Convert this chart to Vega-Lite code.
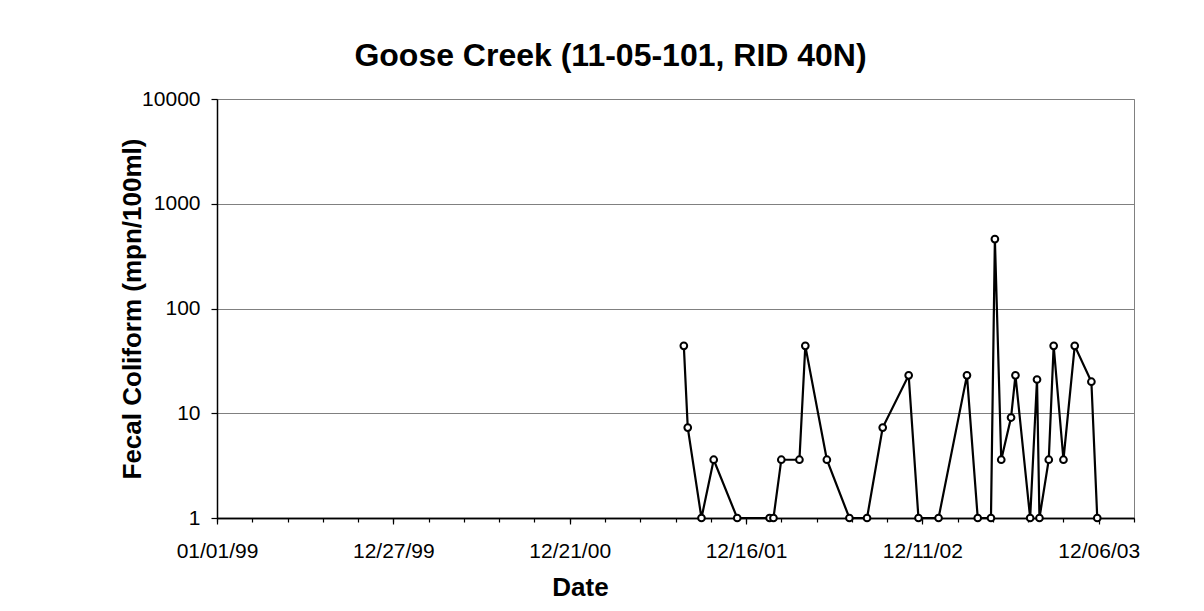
{
  "$schema": "https://vega.github.io/schema/vega-lite/v6.json",
  "autosize": "none",
  "padding": {"left": 217, "top": 99, "right": 70, "bottom": 93},
  "width": 917,
  "height": 419,
  "background": "white",
  "title": {
    "text": "Goose Creek (11-05-101, RID 40N)",
    "font": "Liberation Sans",
    "fontSize": 32,
    "fontWeight": "bold",
    "color": "black",
    "anchor": "middle",
    "frame": "group",
    "baseline": "alphabetic",
    "dx": -65,
    "dy": 42,
    "offset": 32
  },
  "config": {
    "view": {"stroke": "#808080", "strokeWidth": 1},
    "axis": {
      "labelFont": "Liberation Sans",
      "labelFontSize": 21,
      "labelColor": "black",
      "titleFont": "Liberation Sans",
      "titleFontSize": 26,
      "titleFontWeight": "bold",
      "titleColor": "black",
      "domainColor": "black",
      "domainWidth": 1.5,
      "tickColor": "black",
      "tickWidth": 1.2,
      "labelFlush": false,
      "labelOverlap": false,
      "labelBound": false
    }
  },
  "data": {
    "values": [
      {"date": "2001/08/11", "fc": 44},
      {"date": "2001/08/19", "fc": 7.3},
      {"date": "2001/09/16", "fc": 1},
      {"date": "2001/10/11", "fc": 3.6},
      {"date": "2001/11/28", "fc": 1},
      {"date": "2002/02/02", "fc": 1},
      {"date": "2002/02/10", "fc": 1},
      {"date": "2002/02/26", "fc": 3.6},
      {"date": "2002/04/04", "fc": 3.6},
      {"date": "2002/04/16", "fc": 44},
      {"date": "2002/05/30", "fc": 3.6},
      {"date": "2002/07/15", "fc": 1},
      {"date": "2002/08/20", "fc": 1},
      {"date": "2002/09/21", "fc": 7.3},
      {"date": "2002/11/13", "fc": 23},
      {"date": "2002/12/03", "fc": 1},
      {"date": "2003/01/13", "fc": 1},
      {"date": "2003/03/12", "fc": 23},
      {"date": "2003/04/03", "fc": 1},
      {"date": "2003/04/30", "fc": 1},
      {"date": "2003/05/08", "fc": 460},
      {"date": "2003/05/21", "fc": 3.6},
      {"date": "2003/06/10", "fc": 9.1},
      {"date": "2003/06/19", "fc": 23},
      {"date": "2003/07/19", "fc": 1},
      {"date": "2003/08/02", "fc": 21},
      {"date": "2003/08/07", "fc": 1},
      {"date": "2003/08/26", "fc": 3.6},
      {"date": "2003/09/05", "fc": 44},
      {"date": "2003/09/25", "fc": 3.6},
      {"date": "2003/10/18", "fc": 44},
      {"date": "2003/11/21", "fc": 20},
      {"date": "2003/12/03", "fc": 1}
    ]
  },
  "resolve": {"axis": {"x": "independent"}},
  "layer": [
    {
      "mark": {"type": "line", "color": "black", "strokeWidth": 2.2},
      "encoding": {
        "x": {
          "field": "date",
          "type": "temporal",
          "scale": {
            "domain": [
              {"year": 1999, "month": 1, "date": 1},
              {"year": 2004, "month": 2, "date": 16}
            ],
            "nice": false
          },
          "axis": {
            "orient": "bottom",
            "title": "Date",
            "format": "%m/%d/%y",
            "values": [
              {"year": 1999, "month": 1, "date": 1},
              {"year": 1999, "month": 12, "date": 27},
              {"year": 2000, "month": 12, "date": 21},
              {"year": 2001, "month": 12, "date": 16},
              {"year": 2002, "month": 12, "date": 11},
              {"year": 2003, "month": 12, "date": 6}
            ],
            "grid": false,
            "tickSize": 6,
            "labelPadding": 16,
            "labelBaseline": "top",
            "titleX": 363,
            "titleY": 77,
            "titleBaseline": "alphabetic",
            "titleAlign": "center"
          }
        },
        "y": {
          "field": "fc",
          "type": "quantitative",
          "scale": {"type": "log", "domain": [1, 10000], "nice": false},
          "axis": {
            "title": "Fecal Coliform (mpn/100ml)",
            "values": [1, 10, 100, 1000, 10000],
            "format": "d",
            "grid": true,
            "gridColor": "#808080",
            "gridWidth": 1.2,
            "tickSize": 6,
            "labelPadding": 11,
            "titleX": -77,
            "titleY": 209.5,
            "titleAngle": -90,
            "titleBaseline": "alphabetic",
            "titleAlign": "center"
          }
        }
      }
    },
    {
      "mark": {"type": "point", "filled": true, "fill": "white", "stroke": "black", "strokeWidth": 2, "size": 45, "opacity": 1},
      "encoding": {
        "x": {
          "field": "date",
          "type": "temporal",
          "axis": {
            "orient": "bottom",
            "title": null,
            "labels": false,
            "grid": false,
            "tickSize": 4,
            "values": [
              {"year": 1999, "month": 1, "date": 1},
              {"year": 1999, "month": 3, "date": 14},
              {"year": 1999, "month": 5, "date": 25},
              {"year": 1999, "month": 8, "date": 5},
              {"year": 1999, "month": 10, "date": 16},
              {"year": 1999, "month": 12, "date": 27},
              {"year": 2000, "month": 3, "date": 8},
              {"year": 2000, "month": 5, "date": 19},
              {"year": 2000, "month": 7, "date": 30},
              {"year": 2000, "month": 10, "date": 10},
              {"year": 2000, "month": 12, "date": 21},
              {"year": 2001, "month": 3, "date": 3},
              {"year": 2001, "month": 5, "date": 14},
              {"year": 2001, "month": 7, "date": 25},
              {"year": 2001, "month": 10, "date": 5},
              {"year": 2001, "month": 12, "date": 16},
              {"year": 2002, "month": 2, "date": 26},
              {"year": 2002, "month": 5, "date": 9},
              {"year": 2002, "month": 7, "date": 20},
              {"year": 2002, "month": 9, "date": 30},
              {"year": 2002, "month": 12, "date": 11},
              {"year": 2003, "month": 2, "date": 21},
              {"year": 2003, "month": 5, "date": 4},
              {"year": 2003, "month": 7, "date": 15},
              {"year": 2003, "month": 9, "date": 25},
              {"year": 2003, "month": 12, "date": 6},
              {"year": 2004, "month": 2, "date": 16}
            ]
          }
        },
        "y": {"field": "fc", "type": "quantitative"}
      }
    }
  ]
}
